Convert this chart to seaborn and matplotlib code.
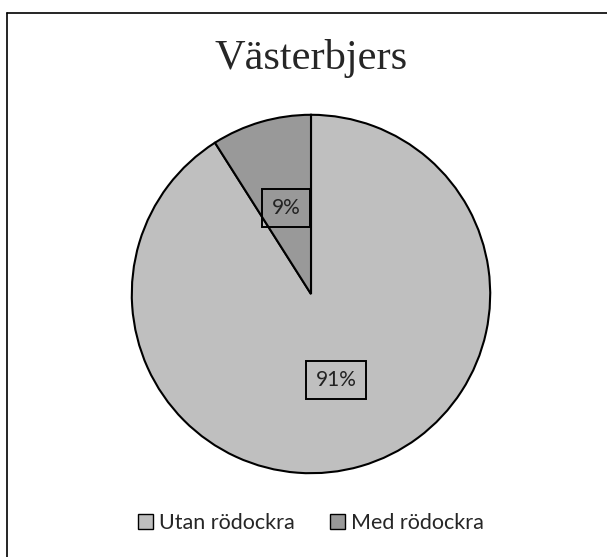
import matplotlib
matplotlib.use("Agg")
import matplotlib.pyplot as plt
import seaborn as sns
from matplotlib.lines import Line2D
from matplotlib.patches import Patch

# Chart data
categories = ["Utan rödockra", "Med rödockra"]
shares = [91, 9]
colors = ["#BFBFBF", "#999999"]
title = "Västerbjers"

sns.set_theme(style="white")
plt.rcParams['font.family'] = ['Lato', 'DejaVu Sans']

W, H = 607, 557
fig = plt.figure(figsize=(W / 100, H / 100), dpi=100)

# chart-area frame (only top and left edge visible in the crop)
fig.add_artist(Line2D([7 / W, 7 / W], [0, 1 - 12.5 / H], color="black", lw=1.2))
fig.add_artist(Line2D([7 / W, 1], [1 - 12.5 / H, 1 - 12.5 / H], color="black", lw=1.2))

cx, cy, r = 311, 294, 181
ax = fig.add_axes([(cx - r) / W, 1 - (cy + r) / H, 2 * r / W, 2 * r / H])
wedges, texts, autotexts = ax.pie(
    shares, colors=colors, startangle=90, counterclock=False,
    autopct="%1.0f%%", pctdistance=0.5,
    wedgeprops=dict(edgecolor="black", linewidth=1.5),
    textprops=dict(fontsize=15, color="#222222"),
)
for t in autotexts:
    t.set_bbox(dict(facecolor="none", edgecolor="black", linewidth=1.4, boxstyle="square,pad=0.45"))
ax.set_xlim(-1.01, 1.01)
ax.set_ylim(-1.01, 1.01)
ax.set_aspect("equal")

fig.text(311 / W, 1 - 58 / H, title, ha="center", va="center",
         fontsize=30.5, family=["Liberation Serif", "DejaVu Serif"])

handles = [Patch(facecolor=c, edgecolor="black", linewidth=1.0) for c in colors]
fig.legend(handles, categories, loc="center", bbox_to_anchor=(311 / W, 1 - 523 / H),
           ncol=2, frameon=False, fontsize=15.5, handlelength=0.7, handleheight=0.7,
           handletextpad=0.3, columnspacing=1.6)

fig.savefig("out.png", dpi=100)
